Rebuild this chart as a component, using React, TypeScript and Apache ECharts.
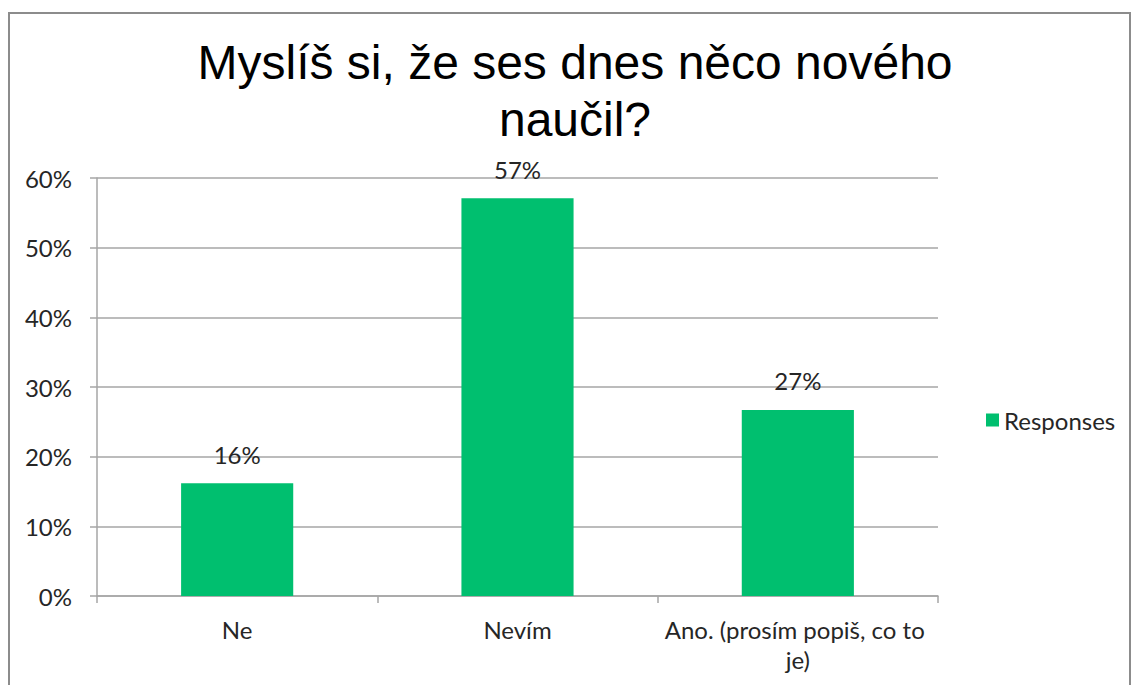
import React, { useEffect, useRef } from "react";
import * as echarts from "echarts";

const categories = ["Ne", "Nevím", "Ano. (prosím popiš, co to je)"];
const responses = [16.2, 57.1, 26.7];
const seriesName = "Responses";
const titleText = "Myslíš si, že ses dnes něco nového\nnaučil?";

export default function App() {
  const ref = useRef<HTMLDivElement>(null);
  useEffect(() => {
    if (!ref.current) return;
    const chart = echarts.init(ref.current, null, { renderer: "svg" });
    const labelFont = "Lato";
    const labelSize = 24;
    chart.setOption({
      animation: false,
      backgroundColor: "#ffffff",
      graphic: [
        {
          type: "rect",
          shape: { x: 9, y: 13, width: 1121, height: 720 },
          style: { fill: "none", stroke: "#8c8c8c", lineWidth: 2 },
          silent: true,
        },
        {
          type: "text",
          x: 575,
          y: 34,
          style: {
            text: titleText,
            font: "48px 'Liberation Sans', Arial, sans-serif",
            fill: "#000000",
            textAlign: "center",
            textVerticalAlign: "top",
            lineHeight: 57,
          },
        },
      ],
      legend: {
        data: [seriesName],
        orient: "vertical",
        left: 981,
        top: 403,
        itemWidth: 13,
        itemHeight: 13,
        icon: "rect",
        textStyle: {
          fontFamily: labelFont,
          fontSize: labelSize,
          color: "#262626",
        },
      },
      grid: { left: 97, right: 193, top: 178, bottom: 89, containLabel: false },
      xAxis: {
        type: "category",
        data: categories,
        axisLine: { show: true, lineStyle: { color: "#a6a6a6", width: 1.5 } },
        axisTick: { show: true, length: 7, lineStyle: { color: "#a6a6a6", width: 1.5 } },
        axisLabel: {
          interval: 0,
          margin: 18,
          width: 300,
          overflow: "break",
          fontFamily: labelFont,
          fontSize: labelSize,
          lineHeight: 30,
          color: "#262626",
        },
      },
      yAxis: {
        type: "value",
        min: 0,
        max: 60,
        interval: 10,
        axisLine: { show: true, lineStyle: { color: "#a6a6a6", width: 1.5 } },
        axisTick: { show: true, length: 7, lineStyle: { color: "#a6a6a6", width: 1.5 } },
        splitLine: { show: true, lineStyle: { color: "#a6a6a6", width: 1.5 } },
        axisLabel: {
          formatter: "{value}%",
          margin: 25,
          fontFamily: labelFont,
          fontSize: labelSize,
          color: "#262626",
        },
      },
      series: [
        {
          name: seriesName,
          type: "bar",
          data: responses,
          barWidth: "40%",
          itemStyle: { color: "#00BF6F" },
          label: {
            show: true,
            position: "top",
            distance: 17,
            formatter: (p: any) => Math.round(p.value) + "%",
            fontFamily: labelFont,
            fontSize: labelSize,
            color: "#262626",
          },
        },
      ],
    });
    return () => chart.dispose();
  }, []);
  return (
    <div
      ref={ref}
      style={{ position: "absolute", left: 0, top: 0, width: 1131, height: 685 }}
    />
  );
}
